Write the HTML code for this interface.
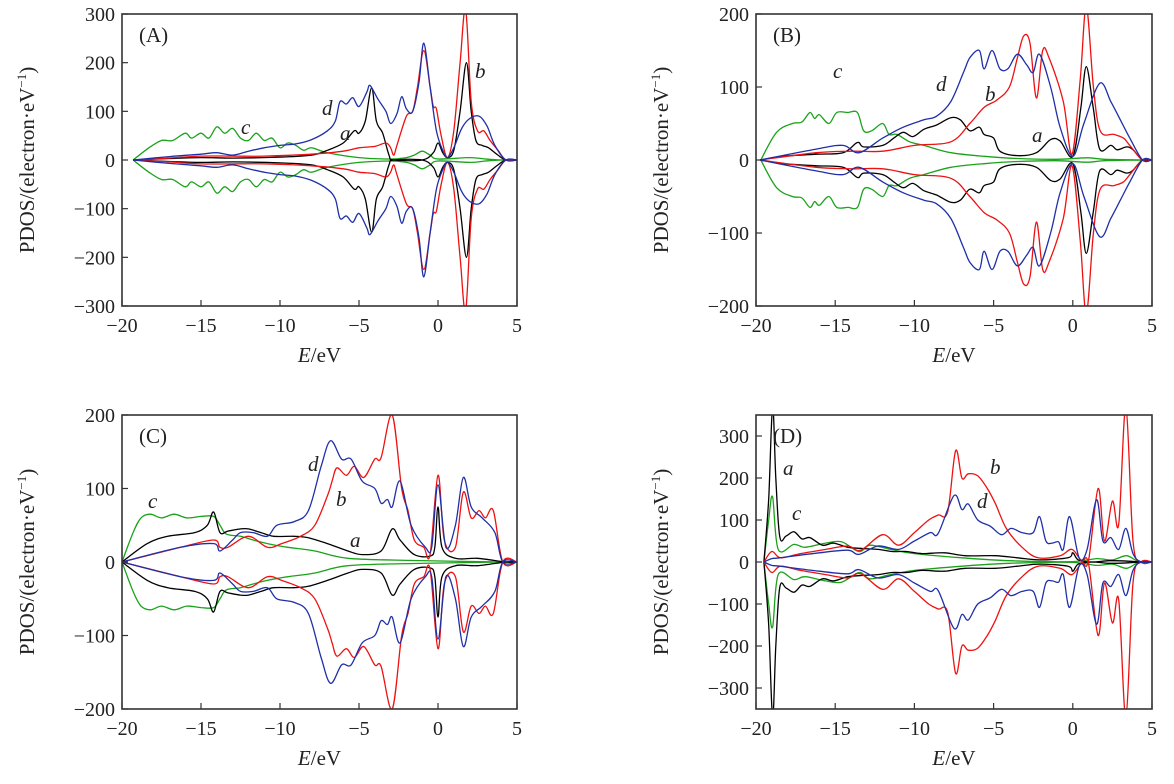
<!DOCTYPE html>
<html><head><meta charset="utf-8"><style>
body{margin:0;background:#fff}
svg{display:block;font-family:"Liberation Serif",serif}
</style></head><body>
<svg id="chart" width="1174" height="784" viewBox="0 0 1174 784" xmlns="http://www.w3.org/2000/svg"></svg>
<script>
// x tick labels (shared)
const xTicks = [-20,-15,-10,-5,0,5];
// Panel A data (E, spin-up PDOS)
const A_a = [[-19.3,0],[-17,3],[-15,5],[-13,4],[-10,6],[-8,10],[-7,20],[-6,35],[-5.3,60],[-5,55],[-4.6,80],[-4.2,148],[-3.9,80],[-3.5,55],[-3.1,10],[-2.8,0],[-1,0],[-0.3,15],[0,35],[0.3,15],[0.6,5],[1.0,20],[1.4,100],[1.8,200],[2.1,100],[2.4,40],[2.8,30],[3.2,25],[3.8,10],[4.3,0],[5,0]];
const A_b = [[-19.3,0],[-17,4],[-15,8],[-13,8],[-11,8],[-8,12],[-6,18],[-5,25],[-4,28],[-3.3,35],[-3,25],[-2.8,10],[-2.6,30],[-2,90],[-1.6,100],[-1.3,150],[-0.9,225],[-0.5,150],[-0.3,110],[-0.1,105],[0.2,50],[0.6,5],[1.0,60],[1.4,200],[1.75,310],[2.1,120],[2.5,60],[2.9,60],[3.3,40],[3.8,20],[4.3,0],[5,0]];
const A_c = [[-19.3,0],[-18.3,25],[-17.5,40],[-16.8,40],[-16,55],[-15.6,45],[-15,55],[-14.5,45],[-14,68],[-13.5,55],[-13,65],[-12.5,45],[-12,40],[-11.5,55],[-11,40],[-10.5,45],[-10,25],[-9.5,35],[-9,30],[-8.5,20],[-8,25],[-7,15],[-5,5],[-3,2],[-2,5],[-1.5,10],[-1,18],[-0.5,10],[0,2],[2,5],[3,2],[4,0],[5,0]];
const A_d = [[-19.3,0],[-17,7],[-15,12],[-14,15],[-13,10],[-12,18],[-11,25],[-10,30],[-9,33],[-8,42],[-7,60],[-6.5,80],[-6.2,120],[-5.8,115],[-5.4,128],[-5,110],[-4.5,140],[-4.3,153],[-3.8,125],[-3.3,100],[-3,75],[-2.6,95],[-2.3,130],[-2,105],[-1.6,100],[-1.2,160],[-0.9,240],[-0.5,150],[-0.1,60],[0.3,20],[0.6,5],[1.0,25],[1.5,65],[2,85],[2.6,90],[3.1,70],[3.6,30],[4.3,0],[5,0]];
// Panel B
const B_a = [[-19.75,0],[-18.3,5],[-16.2,8],[-14.5,10],[-13.6,24],[-13.2,18],[-12,20],[-11.3,30],[-10.7,38],[-10.1,32],[-9.4,42],[-8.6,48],[-7.7,58],[-7.1,55],[-6.5,40],[-5.9,45],[-5.6,35],[-5,30],[-4.6,12],[-3.5,6],[-2.3,10],[-1.4,28],[-0.8,26],[0,5],[0.5,70],[0.85,128],[1.3,70],[1.7,15],[2.4,20],[2.8,14],[3.4,18],[3.8,14],[4.4,0],[5,0]];
const B_b = [[-19.75,0],[-16.2,10],[-14,12],[-12,12],[-10,20],[-7.7,25],[-6.5,50],[-5.6,72],[-4.8,82],[-4,100],[-3.5,140],[-3.1,170],[-2.7,160],[-2.3,85],[-1.9,150],[-1.5,140],[-0.6,80],[-0.05,8],[0.47,110],[0.85,210],[1.3,100],[1.73,40],[2.6,35],[3.2,30],[3.6,20],[4.4,0],[5,0]];
const B_c = [[-19.7,0],[-18.7,38],[-17.7,50],[-17.1,52],[-16.6,65],[-16.3,57],[-16,62],[-15.4,50],[-14.9,65],[-14.2,65],[-13.6,65],[-13.2,40],[-12.7,40],[-12,50],[-11.6,35],[-11.1,35],[-10.3,25],[-9.4,20],[-7.7,10],[-5.6,5],[-3.5,2],[-1,1],[0.9,3],[2,1],[4.5,0],[5,0]];
const B_d = [[-19.75,0],[-16.2,15],[-14.5,20],[-13.5,10],[-12,30],[-10.7,45],[-9.4,55],[-8.6,60],[-7.7,80],[-6.9,120],[-6.5,140],[-5.9,150],[-5.6,125],[-5.1,150],[-4.6,125],[-4.1,125],[-3.5,145],[-2.9,130],[-2.5,120],[-2.1,145],[-1.4,100],[-0.8,45],[0,5],[0.7,50],[1.7,105],[2.4,80],[3,55],[3.6,30],[4.4,0],[5,0]];
// Panel C
const C_a = [[-20,0],[-18.4,25],[-17.1,35],[-15.4,40],[-14.6,50],[-14.2,68],[-13.8,40],[-13.3,42],[-12.5,45],[-12,45],[-11.2,40],[-10.4,35],[-9.1,35],[-8.2,33],[-7,25],[-5.7,15],[-4.8,10],[-3.6,15],[-2.9,45],[-2.4,30],[-1.5,10],[-0.5,8],[-0.2,20],[0,75],[0.25,20],[1.1,5],[2.5,5],[4.3,0],[5,0]];
const C_b = [[-20,0],[-16.3,20],[-14.2,30],[-13.8,20],[-13.3,20],[-12,35],[-10.8,20],[-9.9,25],[-8.7,35],[-7.8,50],[-7,90],[-6.7,110],[-6.4,128],[-5.8,118],[-5.3,130],[-4.7,115],[-4,140],[-3.6,142],[-2.9,200],[-2.3,100],[-1.9,70],[-1.5,30],[-0.9,20],[-0.5,10],[0,118],[0.4,30],[1.1,20],[1.6,95],[2.1,60],[2.6,70],[3,60],[3.5,70],[4.1,0],[5,0]];
const C_c = [[-20,0],[-19.3,40],[-18.8,60],[-18.2,65],[-17.5,60],[-16.7,65],[-15.9,60],[-15,62],[-14.2,62],[-13.8,50],[-13.4,38],[-12.5,35],[-11.7,30],[-10.8,25],[-9.5,20],[-7.8,15],[-5.7,5],[-1.5,2],[4.3,0],[5,0]];
const C_d = [[-20,0],[-16.3,20],[-14.2,25],[-13.8,15],[-13,30],[-12.5,40],[-11.7,40],[-10.8,35],[-10.2,50],[-9.1,55],[-8.2,70],[-7.4,130],[-6.8,165],[-6.1,140],[-5.5,140],[-4.8,110],[-4,100],[-3.6,80],[-3.2,85],[-2.9,75],[-2.4,110],[-1.7,50],[-0.8,20],[-0.4,20],[0,105],[0.5,20],[1.1,50],[1.6,115],[2.1,75],[2.8,60],[3.6,40],[4.1,0],[5,0]];
// Panel D
const D_a = [[-19.5,0],[-19.2,150],[-18.95,370],[-18.75,200],[-18.5,60],[-18.1,62],[-17.6,72],[-17.1,55],[-16.6,58],[-15.8,40],[-15.1,45],[-14.2,35],[-13.2,32],[-12.3,30],[-11.4,25],[-10.5,25],[-9.5,20],[-8.1,22],[-6.8,15],[-4.9,15],[-3.5,10],[-2.1,5],[-0.3,10],[0,22],[0.35,5],[1.2,0],[2.3,3],[3.5,2],[4.3,0],[5,0]];
const D_b = [[-19.5,0],[-19,25],[-18.45,10],[-17.2,20],[-15.6,30],[-14.2,38],[-13.4,28],[-12,65],[-11,40],[-10,70],[-9.1,100],[-8.5,112],[-7.9,120],[-7.4,265],[-7,200],[-6.6,210],[-6,205],[-5.4,175],[-4.9,140],[-4.2,80],[-3.2,35],[-2.2,10],[-0.8,15],[-0.05,30],[0.6,0],[1,5],[1.6,175],[2,50],[2.5,145],[2.9,90],[3.35,370],[3.8,50],[4.3,0],[5,0]];
const D_c = [[-19.5,0],[-19.2,100],[-18.95,155],[-18.6,30],[-17.6,42],[-16.9,35],[-15.6,45],[-14.6,48],[-13.5,25],[-12.8,40],[-11.5,30],[-10,20],[-7,10],[-4,3],[0,1],[1.5,8],[2.5,5],[3.4,15],[4.2,0],[5,0]];
const D_d = [[-19.5,0],[-19,8],[-18.5,10],[-16,22],[-14.2,28],[-13.5,18],[-12.3,38],[-11,30],[-10,50],[-9,70],[-8.5,68],[-7.5,158],[-7,125],[-6.6,138],[-6,100],[-5.2,85],[-4.5,65],[-3.9,80],[-3.2,70],[-2.5,70],[-2.1,108],[-1.7,50],[-1.3,45],[-0.9,48],[-0.6,30],[-0.2,108],[0.4,10],[0.9,30],[1.5,148],[1.9,50],[2.4,58],[2.9,30],[3.35,80],[3.8,20],[4.3,0],[5,0]];
// y tick labels per panel
const yTicksA = [-300,-200,-100,0,100,200,300];
const yTicksB = [-200,-100,0,100,200];
const yTicksC = [-200,-100,0,100,200];
const yTicksD = [-300,-200,-100,0,100,200,300];

const NS = "http://www.w3.org/2000/svg";
const svg = document.getElementById('chart');
function mk(tag, attrs, parent){const e=document.createElementNS(NS,tag);for(const k in attrs)e.setAttribute(k,attrs[k]);(parent||svg).appendChild(e);return e;}

const panels = [
 {id:'a',label:'(A)',x0:122,x1:517,y0:14,y1:306,ymax:300,ticks:yTicksA,series:[A_c,A_a,A_b,A_d],
  notes:[['c',241,134],['d',322,115],['a',340,140],['b',475,78]]},
 {id:'b',label:'(B)',x0:756,x1:1152,y0:14,y1:306,ymax:200,ticks:yTicksB,series:[B_c,B_a,B_b,B_d],
  notes:[['c',833,78],['d',936,91],['b',985,101],['a',1032,142]]},
 {id:'c',label:'(C)',x0:122,x1:517,y0:415,y1:709,ymax:200,ticks:yTicksC,series:[C_c,C_a,C_b,C_d],
  notes:[['c',148,508],['d',308,471],['b',336,506],['a',350,547]]},
 {id:'d',label:'(D)',x0:756,x1:1152,y0:415,y1:709,ymax:350,ticks:yTicksD,series:[D_c,D_a,D_b,D_d],
  notes:[['a',783,475],['c',792,520],['b',990,474],['d',977,508]]}
];
const colors=['#1aa31a','#000000','#ee1111','#1f2fa8'];
const names=['series-c','series-a','series-b','series-d'];

function smooth(pts){
  let d='M'+pts[0][0].toFixed(1)+','+pts[0][1].toFixed(1);
  for(let i=0;i<pts.length-1;i++){
    const p0=pts[Math.max(0,i-1)],p1=pts[i],p2=pts[i+1],p3=pts[Math.min(pts.length-1,i+2)];
    const c1=[p1[0]+(p2[0]-p0[0])/6,p1[1]+(p2[1]-p0[1])/6];
    const c2=[p2[0]-(p3[0]-p1[0])/6,p2[1]-(p3[1]-p1[1])/6];
    d+='C'+c1[0].toFixed(1)+','+c1[1].toFixed(1)+' '+c2[0].toFixed(1)+','+c2[1].toFixed(1)+' '+p2[0].toFixed(1)+','+p2[1].toFixed(1);
  }
  return d;
}

panels.forEach(P=>{
  const g=mk('g',{});
  
  
  const xs=E=>P.x0+(E+20)/25*(P.x1-P.x0);
  const ym=(P.y0+P.y1)/2;
  const ys=v=>ym-v/P.ymax*(P.y1-P.y0)/2;
  const cp=mk('clipPath',{id:'clip-'+P.id},g);
  mk('rect',{x:P.x0,y:P.y0,width:P.x1-P.x0,height:P.y1-P.y0},cp);
  const plot=mk('g',{'clip-path':'url(#clip-'+P.id+')'},g);
  P.series.forEach((s,i)=>{
    [1,-1].forEach(sg=>{
      const p=mk('path',{d:smooth(s.map(q=>[xs(q[0]),ys(sg*q[1])])),fill:'none',stroke:colors[i],'stroke-width':1.3},plot);
      
      
    });
  });
  const fr=mk('rect',{x:P.x0,y:P.y0,width:P.x1-P.x0,height:P.y1-P.y0,fill:'none',stroke:'#333','stroke-width':1.6},g);
  
  
  P.ticks.forEach(t=>{
    const y=ys(t);
    mk('line',{x1:P.x0,x2:P.x0+6,y1:y,y2:y,stroke:'#333','stroke-width':1.2},g);
    const tx=mk('text',{x:P.x0-7,y:y+7,'text-anchor':'end','font-size':20,fill:'#222'},g);
    tx.textContent=t<0?'\u2212'+(-t):String(t);
    
    
  });
  xTicks.forEach(t=>{
    const x=xs(t);
    mk('line',{x1:x,x2:x,y1:P.y1,y2:P.y1-6,stroke:'#333','stroke-width':1.2},g);
    const tx=mk('text',{x:x,y:P.y1+26,'text-anchor':'middle','font-size':20,fill:'#222'},g);
    tx.textContent=t<0?'\u2212'+(-t):String(t);
    
    
  });
  const xt=mk('text',{x:(P.x0+P.x1)/2,y:P.y1+56,'text-anchor':'middle','font-size':21,fill:'#222'},g);
  xt.innerHTML='<tspan font-style="italic">E</tspan>/eV';
  
  
  const yt=mk('text',{x:0,y:0,'text-anchor':'middle','font-size':21,fill:'#222',transform:'translate('+(P.x0-88)+','+ym+') rotate(-90)'},g);
  yt.innerHTML='PDOS/(electron·eV<tspan dy="-8" font-size="13">\u22121</tspan><tspan dy="8">)</tspan>';
  
  
  const pl=mk('text',{x:P.x0+17,y:P.y0+28,'font-size':21,fill:'#222'},g);
  pl.textContent=P.label;
  
  
  P.notes.forEach(n=>{
    const t=mk('text',{x:n[1],y:n[2],'font-size':21,'font-style':'italic',fill:'#222'},g);
    t.textContent=n[0];
    
    
  });
});
</script>
</body></html>
